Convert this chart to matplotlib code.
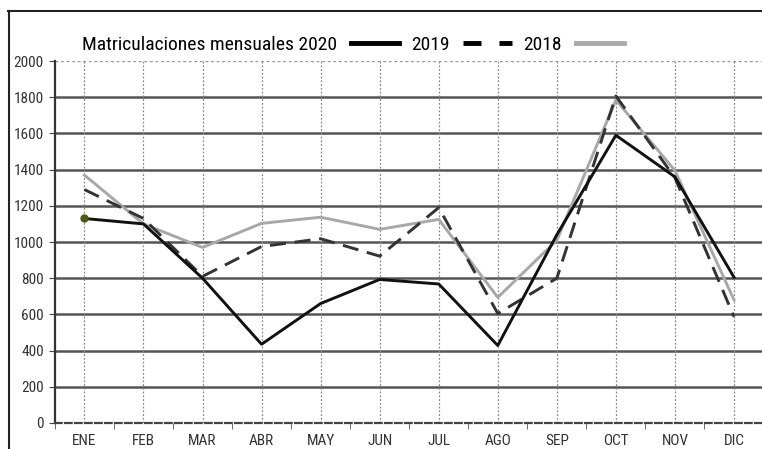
import matplotlib.pyplot as plt
from matplotlib.lines import Line2D
import numpy as np

MESES = ['ENE', 'FEB', 'MAR', 'ABR', 'MAY', 'JUN',
         'JUL', 'AGO', 'SEP', 'OCT', 'NOV', 'DIC']

SERIE_2020 = [1130, 1100, 800, 435, 660, 793, 768, 428, 1040, 1590, 1360, 805]
SERIE_2019 = [1290, 1130, 810, 975, 1018, 922, 1190, 605, 800, 1807, 1355, 587]
SERIE_2018 = [1370, 1100, 970, 1103, 1137, 1070, 1125, 694, 1010, 1785, 1395, 680]

Y_TICKS = [0, 200, 400, 600, 800, 1000, 1200, 1400, 1600, 1800, 2000]

plt.rcParams['font.family'] = ['Roboto Condensed', 'DejaVu Sans']

fig = plt.figure(figsize=(7.62, 4.49), dpi=100)
ax = fig.add_axes([0.072, 0.058, 0.93, 0.806])

x = np.arange(len(MESES))

ax.plot(x, SERIE_2020, color='#111111', lw=2.1, zorder=4,
        label='Matriculaciones mensuales 2020')
ax.plot(x, SERIE_2019, color='#333333', lw=2.1, dashes=(5.5, 3), zorder=3,
        label='2019')
ax.plot(x, SERIE_2018, color='#a8a8a8', lw=2.1, zorder=2, label='2018')
ax.plot(x[:1], SERIE_2020[:1], 'o', color='#4a5a18', ms=5, zorder=5)

ax.set_xlim(-0.5, len(MESES) - 0.5)
ax.set_ylim(0, 2000)
ax.set_yticks(Y_TICKS)
ax.set_xticks(x)
ax.set_xticklabels(MESES)
ax.set_xticks(np.arange(-0.5, len(MESES), 1), minor=True)
ax.tick_params(axis='x', which='major', length=0, pad=8, labelsize=11,
               labelcolor='#333333')
ax.tick_params(axis='x', which='minor', length=4, color='#555555')
ax.tick_params(axis='y', length=4, pad=4, labelsize=11, labelcolor='#333333',
               color='#444444')

# horizontal grid, dotted top line at 2000
for v in Y_TICKS[1:-1]:
    ax.axhline(v, color='#555555', lw=1.8, zorder=1)
ax.axhline(2000, color='#999999', lw=1, ls=(0, (2, 2)), zorder=1)
for xi in x:
    ax.axvline(xi, color='#888888', lw=0.9, ls=(0, (1.5, 1.5)), zorder=1)

for s in ['top', 'right']:
    ax.spines[s].set_visible(False)
ax.spines['left'].set_color('#333333')
ax.spines['left'].set_linewidth(1.6)
ax.spines['bottom'].set_color('#444444')
ax.spines['bottom'].set_linewidth(1.6)
ax.spines['bottom'].set_linestyle((0, (3, 1.5)))

handles = [Line2D([], [], color='black', lw=3.5),
           Line2D([], [], color='black', lw=3.5, dashes=(3.7, 3.7)),
           Line2D([], [], color='#aaaaaa', lw=3.5)]
labels = ['Matriculaciones mensuales 2020', '2019', '2018']
fig.legend(handles, labels, ncol=3, markerfirst=False, frameon=False,
           loc='center left', bbox_to_anchor=(0.09, 0.9), fontsize=14,
           handlelength=2.5, columnspacing=0.6, handletextpad=0.7,
           borderpad=0.2)

# outer frame
fig.add_artist(Line2D([0.012, 0.012], [0.0, 0.976], color='#222222', lw=1.5,
                      transform=fig.transFigure))
fig.add_artist(Line2D([0.011, 1.0], [0.976, 0.976], color='#222222', lw=1.5,
                      transform=fig.transFigure))

fig.savefig('out.png', dpi=100)
